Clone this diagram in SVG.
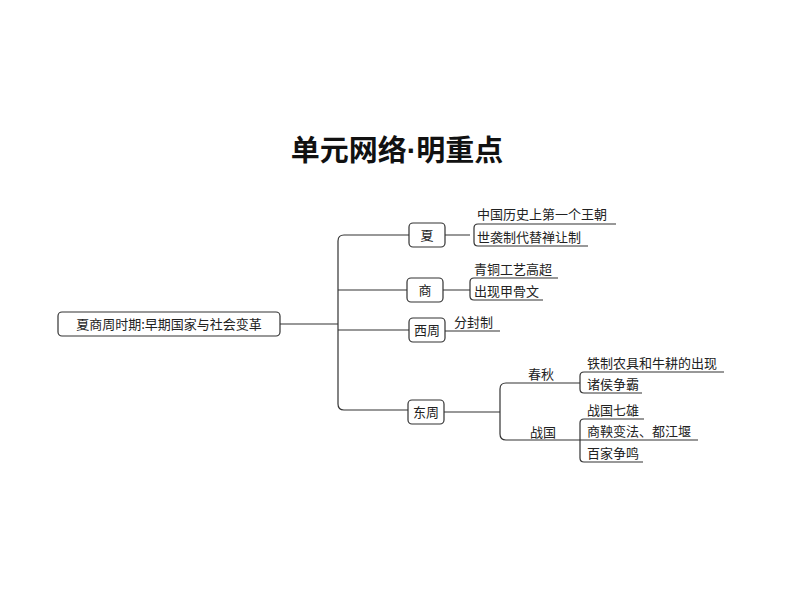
<svg xmlns="http://www.w3.org/2000/svg" width="794" height="596" viewBox="0 0 794 596">
<style>
.bg{fill:#fff}
.box{fill:#fff;stroke:#333;stroke-width:1.2}
.ln{fill:none;stroke:#333;stroke-width:1.2}
.t{font-family:"Noto Sans CJK SC",sans-serif;font-size:13px;fill:#222}
.c{text-anchor:middle}
.title{font-family:"Noto Sans CJK SC",sans-serif;font-size:29px;font-weight:bold;fill:#111;text-anchor:middle}
.dot{font-family:"Liberation Sans",sans-serif}
</style>
<rect class="bg" width="794" height="596"/>
<text class="title" x="397" y="161">单元网络<tspan class="dot">·</tspan>明重点</text>
<g id="connectors">
<path class="ln" d="M280 324H338"/>
<path class="ln" d="M409 235H344Q338 235 338 241V404Q338 410 344 410H408"/>
<path class="ln" d="M338 290H407M338 330H409"/>
<path class="ln" d="M445 235H470M443 290H470"/>
<path class="ln" d="M616 224H478Q474 224 474 228V242Q474 246 478 246H588"/>
<path class="ln" d="M558 278H474Q470 278 470 282V296Q470 300 474 300H543"/>
<path class="ln" d="M445 331H500"/>
<path class="ln" d="M444 412H500"/>
<path class="ln" d="M580 383H506Q500 383 500 389V434Q500 440 506 440H580"/>
<path class="ln" d="M724 372H584Q580 372 580 376V389Q580 393 584 393H642"/>
<path class="ln" d="M644 419H584Q580 419 580 423V458Q580 462 584 462H643M580 440H698"/>
</g>
<g id="root"><rect class="box" x="58" y="312" width="222" height="24" rx="4"/><text class="t c" x="169" y="329">夏商周时期:早期国家与社会变革</text></g>
<g id="xia"><rect class="box" x="409" y="223" width="36" height="24" rx="4"/><text class="t c" x="427" y="240">夏</text></g>
<g id="shang"><rect class="box" x="407" y="278" width="36" height="24" rx="4"/><text class="t c" x="425" y="295">商</text></g>
<g id="xizhou"><rect class="box" x="409" y="318" width="36" height="24" rx="4"/><text class="t c" x="427" y="335">西周</text></g>
<g id="dongzhou"><rect class="box" x="408" y="400" width="36" height="24" rx="4"/><text class="t c" x="426" y="417">东周</text></g>
<g id="xia-items"><text class="t" x="477" y="219">中国历史上第一个王朝</text><text class="t" x="477" y="242">世袭制代替禅让制</text></g>
<g id="shang-items"><text class="t" x="474" y="274">青铜工艺高超</text><text class="t" x="474" y="296">出现甲骨文</text></g>
<g id="xizhou-items"><text class="t" x="454" y="327">分封制</text></g>
<g id="chunqiu"><text class="t" x="528" y="379">春秋</text><text class="t" x="587" y="368">铁制农具和牛耕的出现</text><text class="t" x="587" y="389">诸侯争霸</text></g>
<g id="zhanguo"><text class="t" x="530" y="437">战国</text><text class="t" x="587" y="415">战国七雄</text><text class="t" x="587" y="436">商鞅变法、都江堰</text><text class="t" x="587" y="458">百家争鸣</text></g>
</svg>
